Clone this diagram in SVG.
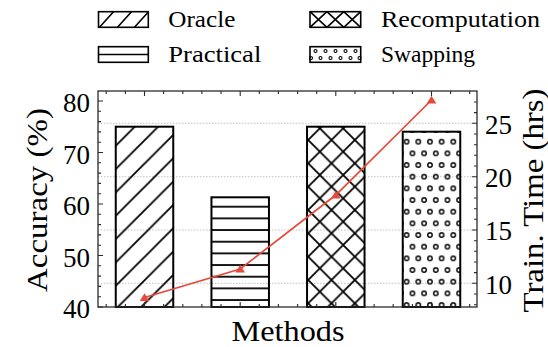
<svg xmlns="http://www.w3.org/2000/svg" width="548" height="347" viewBox="0 0 548 347" font-family="Liberation Serif, DejaVu Serif, serif">
  <style>
    text { font-family: "Liberation Serif", "DejaVu Serif", "Times New Roman", Times, serif; fill: #000; }
    .tick { font-size: 27px; }
    .axis-title { font-size: 29px; }
    .leg { font-size: 24px; }
    .frame { fill: none; stroke: #2b2b2b; stroke-width: 1.3; }
    .ticks { stroke: #2b2b2b; stroke-width: 1.1; fill: none; }
    .grid { stroke: #c4c4c4; stroke-width: 1; stroke-dasharray: 1.5 1.5; fill: none; }
    .bar { stroke: #000; stroke-width: 2; }
    .swatch { fill: none; stroke: #000; stroke-width: 1.6; }
    .hline { stroke: #000; stroke-width: 1.6; fill: none; }
    .trend { fill: none; stroke: #e8483a; stroke-width: 1.7; }
    .marker { fill: #e8483a; stroke: none; }
  </style>
  <defs>
    <!-- forward diagonal hatch -->
    <pattern id="hatch-diag" patternUnits="userSpaceOnUse" x="4.83" y="0" width="23.333" height="23.333">
      <path d="M-2,2 L2,-2 M0,23.333 L23.333,0 M21.333,25.333 L25.333,21.333" stroke="#000" stroke-width="1.8"/>
    </pattern>
    <!-- horizontal hatch -->
    <pattern id="hatch-horiz" patternUnits="userSpaceOnUse" x="0" y="2.54" width="10" height="11.667">
      <path d="M-1,5.833 L11,5.833" stroke="#000" stroke-width="1.8"/>
    </pattern>
    <!-- cross hatch -->
    <pattern id="hatch-cross" patternUnits="userSpaceOnUse" x="4.83" y="0" width="23.333" height="23.333">
      <path d="M-2,2 L2,-2 M0,23.333 L23.333,0 M21.333,25.333 L25.333,21.333 M0,0 L23.333,23.333 M-2,21.333 L2,25.333 M21.333,-2 L25.333,2" stroke="#000" stroke-width="1.8"/>
    </pattern>
    <!-- ring dots -->
    <pattern id="hatch-dots" patternUnits="userSpaceOnUse" x="1.2" y="-4.13" width="11.667" height="23.333">
      <circle cx="8.75" cy="5.83" r="2.2" fill="none" stroke="#000" stroke-width="1.4"/>
      <circle cx="2.92" cy="17.5" r="2.2" fill="none" stroke="#000" stroke-width="1.4"/>
    </pattern>
  </defs>

  <rect x="0" y="0" width="548" height="347" fill="#fff"/>

  <!-- legend -->
  <g id="legend">
    <g id="legend-oracle">
      <rect class="swatch" x="98.5" y="11.7" width="49.8" height="15.6"/>
      <path class="hline" d="M99.5,27.3 L113.5,11.7 M117.5,27.3 L131.5,11.7 M134.5,27.3 L148.3,12"/>
      <text class="leg" x="168.3" y="27.3" textLength="67" lengthAdjust="spacingAndGlyphs">Oracle</text>
    </g>
    <g id="legend-practical">
      <rect class="swatch" x="98.5" y="46.7" width="49.8" height="15.6"/>
      <path class="hline" d="M98.5,54.5 L148.3,54.5"/>
      <text class="leg" x="168.3" y="62" textLength="93" lengthAdjust="spacingAndGlyphs">Practical</text>
    </g>
    <g id="legend-recomputation">
      <rect class="swatch" x="310" y="11.7" width="50.7" height="15.6"/>
      <path class="hline" d="M310,11.7 L326.9,27.3 M326.9,11.7 L310,27.3 M326.9,11.7 L343.8,27.3 M343.8,11.7 L326.9,27.3 M343.8,11.7 L360.7,27.3 M360.7,11.7 L343.8,27.3"/>
      <text class="leg" x="381" y="27.3" textLength="159" lengthAdjust="spacingAndGlyphs">Recomputation</text>
    </g>
    <g id="legend-swapping">
      <rect class="swatch" x="310" y="46.7" width="50.7" height="15.6"/>
      <g fill="none" stroke="#000" stroke-width="1.1">
        <circle cx="315.5" cy="51" r="1.5"/><circle cx="325.5" cy="51" r="1.5"/><circle cx="335.5" cy="51" r="1.5"/><circle cx="345.5" cy="51" r="1.5"/><circle cx="355.5" cy="51" r="1.5"/>
        <circle cx="311" cy="58" r="1.5"/><circle cx="320.5" cy="58" r="1.5"/><circle cx="330.5" cy="58" r="1.5"/><circle cx="340.5" cy="58" r="1.5"/><circle cx="350.5" cy="58" r="1.5"/><circle cx="359.5" cy="58" r="1.5"/>
      </g>
      <text class="leg" x="381" y="62" textLength="94" lengthAdjust="spacingAndGlyphs">Swapping</text>
    </g>
  </g>

  <!-- grid from the right-hand axis -->
  <g id="grid">
    <path class="grid" d="M98,123.3 H477 M98,176.7 H477 M98,230 H477 M98,283.3 H477"/>
  </g>

  <!-- bars -->
  <g id="bar-oracle">
    <rect class="bar" x="115.75" y="126.7" width="57.5" height="180.3" fill="url(#hatch-diag)"/>
  </g>
  <g id="bar-practical">
    <rect class="bar" x="211.45" y="197.3" width="57.5" height="109.7" fill="url(#hatch-horiz)"/>
  </g>
  <g id="bar-recomputation">
    <rect class="bar" x="307.05" y="126.7" width="57.5" height="180.3" fill="url(#hatch-cross)"/>
  </g>
  <g id="bar-swapping">
    <rect class="bar" x="402.75" y="131.7" width="57.5" height="175.3" fill="url(#hatch-dots)"/>
  </g>

  <!-- training-time series -->
  <g id="connectors">
    <polyline class="trend" points="144.5,297.5 240.2,269 335.8,195 431.5,100"/>
    <g id="markers">
      <path class="marker" d="M144.5,293.2 L149.3,301 L139.7,301 Z"/>
      <path class="marker" d="M240.2,264.7 L245,272.5 L235.4,272.5 Z"/>
      <path class="marker" d="M335.8,190.7 L340.6,198.5 L331,198.5 Z"/>
      <path class="marker" d="M431.5,95.7 L436.3,103.5 L426.7,103.5 Z"/>
    </g>
  </g>

  <!-- axes frame and ticks -->
  <g id="axes">
    <rect class="frame" x="98" y="91" width="379" height="216"/>
    <!-- left: major every 10, minor every 2 -->
    <path class="ticks" d="M98,307 h5 M98,255.5 h5 M98,204 h5 M98,152.5 h5 M98,101 h5
      M98,296.7 h3 M98,286.4 h3 M98,276.1 h3 M98,265.8 h3 M98,245.2 h3 M98,234.9 h3 M98,224.6 h3 M98,214.3 h3
      M98,193.7 h3 M98,183.4 h3 M98,173.1 h3 M98,162.8 h3 M98,142.2 h3 M98,131.9 h3 M98,121.6 h3 M98,111.3 h3"/>
    <!-- right: major every 5, minor every 1 -->
    <path class="ticks" d="M477,283.3 h-5 M477,230 h-5 M477,176.7 h-5 M477,123.3 h-5
      M477,304.7 h-3 M477,294 h-3 M477,272.6 h-3 M477,262 h-3 M477,251.3 h-3 M477,240.7 h-3 M477,219.3 h-3 M477,208.7 h-3
      M477,198 h-3 M477,187.3 h-3 M477,166 h-3 M477,155.3 h-3 M477,144.7 h-3 M477,134 h-3 M477,112.6 h-3 M477,102 h-3"/>
    <!-- bottom and top -->
    <path class="ticks" d="M144.5,307 v-5 M240.2,307 v-5 M335.8,307 v-5 M431.5,307 v-5
      M144.5,91 v5 M240.2,91 v5 M335.8,91 v5 M431.5,91 v5
      M106.2,307 v-3 M125.4,307 v-3 M163.6,307 v-3 M182.8,307 v-3 M201.9,307 v-3 M221,307 v-3 M259.3,307 v-3 M278.4,307 v-3
      M297.6,307 v-3 M316.7,307 v-3 M355,307 v-3 M374.1,307 v-3 M393.2,307 v-3 M412.4,307 v-3 M450.6,307 v-3 M469.7,307 v-3
      M106.2,91 v3 M125.4,91 v3 M163.6,91 v3 M182.8,91 v3 M201.9,91 v3 M221,91 v3 M259.3,91 v3 M278.4,91 v3
      M297.6,91 v3 M316.7,91 v3 M355,91 v3 M374.1,91 v3 M393.2,91 v3 M412.4,91 v3 M450.6,91 v3 M469.7,91 v3"/>

    <g class="tick" text-anchor="end">
      <text class="tick" x="90" y="112">80</text>
      <text class="tick" x="90" y="163.5">70</text>
      <text class="tick" x="90" y="215">60</text>
      <text class="tick" x="90" y="266.5">50</text>
      <text class="tick" x="90" y="317.5">40</text>
    </g>
    <g class="tick">
      <text class="tick" x="485" y="133.5">25</text>
      <text class="tick" x="485" y="187">20</text>
      <text class="tick" x="485" y="240">15</text>
      <text class="tick" x="485" y="293.5">10</text>
    </g>

    <text class="axis-title" x="288" y="340.5" text-anchor="middle" textLength="113" lengthAdjust="spacingAndGlyphs">Methods</text>
    <text class="axis-title" transform="translate(47,200) rotate(-90)" text-anchor="middle" textLength="184" lengthAdjust="spacingAndGlyphs">Accuracy (%)</text>
    <text class="axis-title" transform="translate(543,200.5) rotate(-90)" text-anchor="middle" textLength="224" lengthAdjust="spacingAndGlyphs">Train. Time (hrs)</text>
  </g>
</svg>
